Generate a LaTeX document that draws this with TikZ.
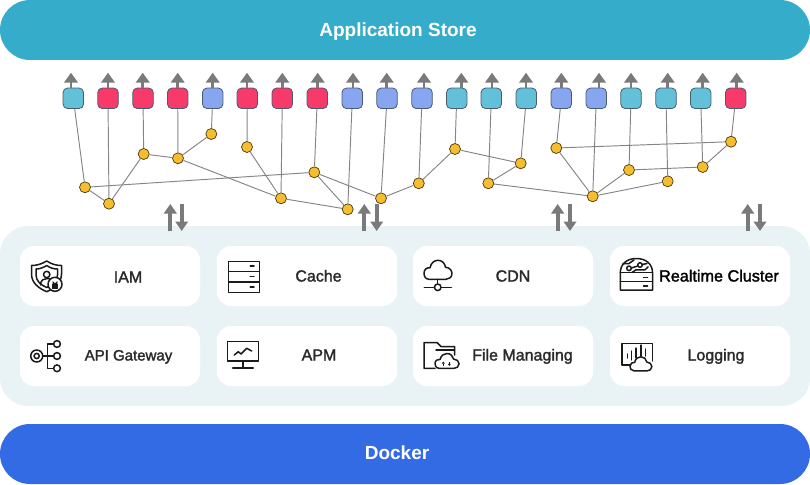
\documentclass[tikz,border=0pt]{standalone}
\usepackage{fontspec}
\setmainfont{Liberation Sans}
\newfontfamily\medf[FakeBold=1.8]{Liberation Sans}
\usetikzlibrary{arrows.meta}
\definecolor{storec}{HTML}{35ACC9}
\definecolor{dockc}{HTML}{336BE5}
\definecolor{panelc}{HTML}{E9F3F6}
\definecolor{tealc}{HTML}{62C1D9}
\definecolor{redc}{HTML}{F83A6A}
\definecolor{bluec}{HTML}{88A5F0}
\definecolor{yelc}{HTML}{F6BD2F}
\definecolor{edgec}{HTML}{858585}
\definecolor{arrc}{HTML}{7A7A7A}
\definecolor{inkc}{HTML}{2A2A2A}
\definecolor{iconc}{HTML}{1A1A1A}
\definecolor{sqline}{HTML}{4A5A70}
\tikzset{
  x=1pt,y=-1pt,
  bar/.style={rectangle,minimum width=810pt,minimum height=60pt,rounded corners=30pt,inner sep=0pt},
  bartext/.style={text=white,font=\bfseries\fontsize{19}{21}\selectfont,inner sep=0pt,anchor=base},
  card/.style={rectangle,fill=white,minimum width=180pt,minimum height=60pt,rounded corners=14pt,inner sep=0pt},
  cardtext/.style={text=inkc,font=\medf\fontsize{16}{18}\selectfont,inner sep=0pt,anchor=base},
  sq/.style={rectangle,draw=sqline,line width=0.8pt,minimum width=20.5pt,minimum height=20.5pt,rounded corners=4.5pt,inner sep=0pt},
  dot/.style={circle,draw=black!70!yelc,fill=yelc,line width=0.7pt,minimum size=11pt,inner sep=0pt},
  link/.style={draw=edgec,line width=0.95pt},
  uparrow/.style={draw=arrc,line width=2.6pt,-{Triangle[length=10pt,width=13.5pt]}},
  flowarrow/.style={draw=arrc,line width=4pt,-{Triangle[length=9.5pt,width=12.5pt]}},
  icon/.style={draw=iconc,line width=1.5pt,line join=round,line cap=round},
}
\newcommand{\cloudpath}{(5,19) .. controls (1,19) and (0,15) .. (0,13) .. controls (0,9) and (3,7) .. (6,7.5) .. controls (7,2) and (11,0) .. (14,0) .. controls (18,0) and (21,3) .. (21.5,7) .. controls (25,7) and (28,10) .. (28,13) .. controls (28,17) and (25,19) .. (22,19) -- cycle}
\begin{document}
\begin{tikzpicture}
\useasboundingbox (0,0) rectangle (810,484);
% bars and panel
\node[bar,fill=storec] (store) at (405,30) {};
\node[bar,fill=dockc] (docker) at (405,454) {};
\node[rectangle,fill=panelc,minimum width=810pt,minimum height=180pt,rounded corners=28pt,inner sep=0pt] (panel) at (405,316) {};
\node[bartext] (storelabel) at (398,36.5) {Application Store};
\node[bartext] (dockerlabel) at (397,459.5) {Docker};
% cards
\foreach \n/\x/\y in {c1/110/276,c2/307/276,c3/503/276,c4/700/276,c5/110/356,c6/307/356,c7/503/356,c8/700/356}
  \node[card] (\n) at (\x,\y) {};
\node[cardtext] (t1) at (128,282.5) {IAM};
\node[cardtext] (t2) at (318.5,281.5) {Cache};
\node[cardtext] (t3) at (513,281.5) {CDN};
\node[cardtext,text=black,font=\medf\fontsize{16.2}{18}\selectfont] (t4) at (719,281.5) {Realtime Cluster};
\node[cardtext,font=\medf\fontsize{15}{18}\selectfont] (t5) at (128.5,360.5) {API Gateway};
\node[cardtext] (t6) at (319,360.5) {APM};
\node[cardtext] (t7) at (522.5,360.5) {File Managing};
\node[cardtext] (t8) at (716,360.5) {Logging};
% squares and up arrows
\foreach \i/\x/\ax/\c in {1/73.3/71/tealc,2/108/108/redc,3/143/142.7/redc,4/177.7/177.7/redc,5/212.7/212.7/bluec,6/247.3/247/redc,7/282.3/282.3/redc,8/317.3/317.7/redc,9/352.3/353/bluec,10/387/386.7/bluec,11/422/424/bluec,12/456.7/461.3/tealc,13/491.3/492/tealc,14/526.3/526/tealc,15/561.3/561.3/bluec,16/596.3/599/bluec,17/631/631/tealc,18/666/667.7/tealc,19/700.7/702.7/tealc,20/735.7/736.7/redc}{
  \node[sq,fill=\c] (s\i) at (\x,98.3) {};
  \coordinate (tip\i) at (\ax,72.7);
  \draw[uparrow] (s\i.north -| tip\i) -- (tip\i);
}
% yellow junctions
\foreach \n/\x/\y in {a/85/187.3,b/109/203.7,c/143.7/154,d/178/158.3,e/211.3/134,f/247/147,g/281/198.3,h/314.3/172.3,i/347.7/209.3,j/381/198.3,k/418.8/183.3,l/455/149,m/488.3/183.3,n/520.7/163.3,o/556.3/148,p/592.7/196.3,q/629/170,r/667.7/181.3,s/702.7/167,t/731/141.7}
  \node[dot] (\n) at (\x,\y) {};
% links
\foreach \p/\q in {s1/a,s2/b,s3/c,s4/d,s5/e,s6/f,s7/g,s8/h,s9/i,s10/j,s11/k,s12/l,s13/m,s14/n,s15/o,s16/p,s17/q,s18/r,s19/s,s20/t,a/b,b/c,c/d,d/e,d/g,f/g,g/i,a/h,h/i,h/j,j/k,k/l,l/n,n/m,m/p,o/p,p/q,p/r,q/s,s/t,o/t}
  \draw[link] (\p) -- (\q);
% up/down arrow pairs
\foreach \n/\x/\xx in {1/170.3/181.7,2/364.3/376.7,3/557.7/570,4/747.7/760}{
  \coordinate (ua\n) at (\x,204); \coordinate (ub\n) at (\x,231);
  \coordinate (da\n) at (\xx,204); \coordinate (db\n) at (\xx,231);
  \draw[flowarrow] (ub\n) -- (ua\n);
  \draw[flowarrow] (da\n) -- (db\n);
}
% IAM icon
\draw[icon] (46.7,261) .. controls (41,264.5) and (36,265.5) .. (31.5,265.5) -- (31.5,274) .. controls (31.5,283) and (39,288.5) .. (46.7,291.7) .. controls (54,288.5) and (61.5,283) .. (61.5,274) -- (61.5,265.5) .. controls (57,265.5) and (52,264.5) .. (46.7,261) -- cycle;
\draw[icon] (46.7,265.5) .. controls (43,268) and (39,269) .. (36,269) -- (36,275) .. controls (36,281) and (41,285) .. (46.7,287.5) .. controls (52,285) and (57.5,281) .. (57.5,275) -- (57.5,269) .. controls (54,269) and (50,268) .. (46.7,265.5) -- cycle;
\draw[icon] (46.7,274.5) circle[radius=3.2];
\draw[icon] (40.5,285) .. controls (40.5,280) and (44,278.5) .. (47,278.5) .. controls (49,278.5) and (50,279) .. (51,279.5);
\draw[icon,fill=white] (55,284.3) circle[radius=7];
\fill[iconc] (51.8,284) rectangle (58.2,288.5);
\draw[iconc,line width=1pt] (53.2,284) -- (53.2,282.3) arc[start angle=180,end angle=0,radius=1.8] -- (56.8,284);
% API Gateway icon
\draw[icon] (36.7,356) circle[radius=6];
\draw[icon] (36.7,356) circle[radius=2.6];
\draw[icon] (43,356) -- (53.5,356);
\draw[icon] (53.5,344) -- (47.3,344) -- (47.3,368.3) -- (53.5,368.3);
\draw[icon] (57,344) circle[radius=3.4];
\draw[icon] (57,356) circle[radius=3.4];
\draw[icon] (57,368.3) circle[radius=3.4];
% Cache icon
\draw[icon] (228.5,261.3) rectangle (259.3,292.3);
\draw[icon] (228.5,271.7) -- (259.3,271.7);
\draw[icon] (228.5,281.9) -- (259.3,281.9);
\foreach \y in {265.8,276.3,287}
  \draw[icon] (250.3,\y) -- (254,\y);
% APM icon
\draw[icon] (227.5,341.7) rectangle (258.3,361);
\draw[icon] (242.8,361) -- (242.8,368);
\draw[icon] (232.7,368) -- (253.3,368);
\draw[icon] (234.3,355) -- (238.3,351.7) -- (241,354) -- (246.7,348.3) -- (251.7,351);
% CDN icon
\begin{scope}[shift={(424,260.3)}]
\draw[icon] \cloudpath;
\end{scope}
\draw[icon] (437.7,279.3) -- (437.7,284);
\draw[icon] (437.7,287.3) circle[radius=3.3];
\draw[icon] (424.3,287.3) -- (434.4,287.3);
\draw[icon] (441,287.3) -- (451.3,287.3);
% File Managing icon
\draw[icon] (435,368.3) -- (424,368.3) -- (424,342.5) -- (437,342.5) -- (441,346.5) -- (454.5,346.5) -- (454.5,355);
\draw[icon] (436,350) -- (454.5,350);
\begin{scope}[shift={(435,353.5)},xscale=0.86,yscale=0.78]
\draw[icon,fill=white] \cloudpath;
\end{scope}
\draw[iconc,line width=0.9pt,-{Triangle[length=2.2pt,width=3pt]}] (443.3,366) -- (443.3,361.5);
\draw[iconc,line width=0.9pt,-{Triangle[length=2.2pt,width=3pt]}] (449.3,361.5) -- (449.3,366);
% Realtime Cluster icon
\draw[icon] (620.3,272.7) .. controls (620.3,264) and (627,258.5) .. (636.3,258.5) .. controls (646,258.5) and (652.5,264) .. (652.5,272.7) -- (652.5,290) -- (620.3,290) -- cycle;
\draw[icon] (620.3,272.7) -- (652.5,272.7);
\draw[icon] (620.3,281.7) -- (652.5,281.7);
\foreach \y in {277.5,286}
  \draw[icon] (643.5,\y) -- (647.5,\y);
\draw[icon] (629,268.3) circle[radius=2.3];
\draw[icon] (640,265) circle[radius=2.3];
\draw[icon] (623,263.8) -- (629,263.5) -- (634,260);
\draw[icon] (631.3,268) -- (637.8,266);
\draw[icon] (632,272.5) -- (636,269.8) -- (645,269.8) -- (648,267);
\draw[icon] (642.3,264.5) -- (647,263.5);
% Logging icon
\draw[icon] (630,365) -- (621.8,365) -- (621.8,343.5) -- (652.3,343.5) -- (652.3,361);
\foreach \x/\t/\b in {627.7/354/358,631.7/351/360,636/348/358,641/345/356,645.7/349/356}
  \draw[icon,line width=1.1pt] (\x,\t) -- (\x,\b);
\begin{scope}[shift={(630,356.8)},xscale=0.78,yscale=0.74]
\draw[icon,fill=white] \cloudpath;
\end{scope}
\end{tikzpicture}
\end{document}
